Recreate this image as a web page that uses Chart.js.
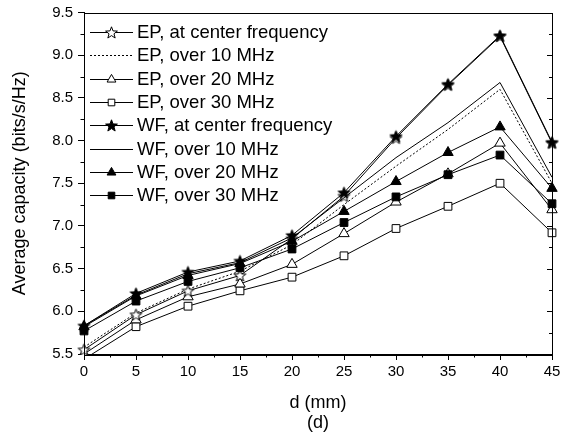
<!DOCTYPE html>
<html lang="en">
<head>
    <meta charset="UTF-8">
    <title>Average capacity vs d</title>
    <script src="https://cdn.jsdelivr.net/npm/chart.js"></script>
    <style>
        html, body { margin: 0; padding: 0; background: #fff; }
        .chart-container { position: relative; width: 574px; height: 441px; }
    </style>
</head>
<body>
<div class="chart-container">
    <canvas id="myChart" width="574" height="441"></canvas>
</div>
<script>
    // distance d (mm)
    const distances = [0, 5, 10, 15, 20, 25, 30, 35, 40, 45];

    // average capacity (bits/s/Hz)
    const epCenter = [5.55, 5.96, 6.24, 6.42, 6.85, 7.35, 8.03, 8.65, 9.22, 7.97];
    const ep10 = [5.58, 5.98, 6.26, 6.47, 6.78, 7.25, 7.70, 8.13, 8.60, 7.50];
    const ep20 = [5.50, 5.90, 6.17, 6.32, 6.55, 6.91, 7.28, 7.61, 7.97, 7.19];
    const ep30 = [5.44, 5.82, 6.06, 6.24, 6.40, 6.65, 6.97, 7.23, 7.50, 6.92];
    const wfCenter = [5.83, 6.21, 6.46, 6.59, 6.89, 7.39, 8.05, 8.66, 9.23, 7.98];
    const wf10 = [5.83, 6.19, 6.44, 6.57, 6.86, 7.33, 7.80, 8.21, 8.68, 7.57];
    const wf20 = [5.82, 6.18, 6.42, 6.56, 6.82, 7.17, 7.52, 7.86, 8.16, 7.44];
    const wf30 = [5.77, 6.12, 6.35, 6.51, 6.73, 7.04, 7.34, 7.60, 7.83, 7.26];

    const seriesLabels = [
        'EP, at center frequency', 'EP, over 10 MHz', 'EP, over 20 MHz', 'EP, over 30 MHz',
        'WF, at center frequency', 'WF, over 10 MHz', 'WF, over 20 MHz', 'WF, over 30 MHz'
    ];

    // tick labels
    const xTicks = [0, 5, 10, 15, 20, 25, 30, 35, 40, 45];
    const xMinorTicks = [2.5, 7.5, 12.5, 17.5, 22.5, 27.5, 32.5, 37.5, 42.5];
    const yTicks = [5.5, 6.0, 6.5, 7.0, 7.5, 8.0, 8.5, 9.0, 9.5];
    const yMinorTicks = [5.75, 6.25, 6.75, 7.25, 7.75, 8.25, 8.75, 9.25];

    Chart.defaults.font.family = "'Liberation Sans', Arial, sans-serif";
    Chart.defaults.color = '#000';

    // five-pointed star marker
    function makeStar(fill, outer, inner) {
        const c = document.createElement('canvas');
        c.width = 15; c.height = 15;
        const g = c.getContext('2d');
        g.beginPath();
        for (let i = 0; i < 10; i++) {
            const r = i % 2 === 0 ? outer : inner;
            const a = -Math.PI / 2 + i * Math.PI / 5;
            g.lineTo(7.5 + r * Math.cos(a), 8 + r * Math.sin(a));
        }
        g.closePath();
        g.fillStyle = fill;
        g.fill();
        g.lineWidth = 1;
        g.strokeStyle = '#000';
        g.stroke();
        return c;
    }
    const openStar = makeStar('#fff', 6.2, 2.6);
    const filledStar = makeStar('#000', 6.2, 2.6);

    function series(label, data, marker, fill, radius, dash, order) {
        return {
            label: label,
            data: data.map((v, i) => ({ x: distances[i], y: v })),
            borderColor: '#000',
            borderWidth: 1,
            borderDash: dash || [],
            pointStyle: marker || false,
            pointRadius: marker ? radius : 0,
            pointBackgroundColor: fill,
            pointBorderColor: '#000',
            pointBorderWidth: 1,
            tension: 0,
            fill: false,
            order: order,
            clip: { left: 10, right: 10, top: 10, bottom: 1 }
        };
    }

    const datasets = [
        series(seriesLabels[0], epCenter, openStar, '#fff', 6, null, 2),
        series(seriesLabels[1], ep10, null, '#fff', 0, [2, 2], 2),
        series(seriesLabels[2], ep20, 'triangle', '#fff', 6, null, 2),
        series(seriesLabels[3], ep30, 'rect', '#fff', 5.5, null, 2),
        series(seriesLabels[4], wfCenter, filledStar, '#000', 6, null, 1),
        series(seriesLabels[5], wf10, null, '#000', 0, null, 1),
        series(seriesLabels[6], wf20, 'triangle', '#000', 6, null, 1),
        series(seriesLabels[7], wf30, 'rect', '#000', 5.5, null, 1)
    ];

    // legend drawn inside the plot, top-left
    const insideLegend = {
        id: 'insideLegend',
        afterDatasetsDraw(chart) {
            const ctx = chart.ctx;
            ctx.save();
            ctx.font = "18.5px 'Liberation Sans', Arial, sans-serif";
            ctx.textBaseline = 'middle';
            ctx.fillStyle = '#000';
            datasets.forEach((ds, row) => {
                const y = Math.round(32 + row * 23.3) + 0.5;
                ctx.strokeStyle = '#000';
                ctx.lineWidth = 1;
                ctx.setLineDash(ds.borderDash);
                ctx.beginPath();
                ctx.moveTo(90, y);
                ctx.lineTo(133, y);
                ctx.stroke();
                ctx.setLineDash([]);
                if (ds.pointStyle) {
                    ctx.fillStyle = ds.pointBackgroundColor;
                    Chart.helpers.drawPoint(ctx, {
                        pointStyle: ds.pointStyle,
                        radius: ds.pointRadius * 0.85,
                        rotation: 0,
                        borderWidth: 1
                    }, 111.5, y);
                }
                ctx.fillStyle = '#000';
                ctx.fillText(ds.label, 137, y);
            });
            ctx.restore();
        }
    };

    // frame, minor ticks and inner ticks on the right side
    const frameTicks = {
        id: 'frameTicks',
        afterDraw(chart) {
            const ctx = chart.ctx;
            const a = chart.chartArea;
            const xs = chart.scales.x;
            const ys = chart.scales.y;
            ctx.save();
            ctx.strokeStyle = '#000';
            ctx.lineWidth = 1;
            ctx.strokeRect(Math.round(a.left) + 0.5, Math.round(a.top) + 0.5,
                Math.round(a.right - a.left), Math.round(a.bottom - a.top));
            ctx.beginPath();
            xMinorTicks.forEach(v => {
                const px = Math.round(xs.getPixelForValue(v)) + 0.5;
                ctx.moveTo(px, a.bottom);
                ctx.lineTo(px, a.bottom + 3.5);
            });
            yMinorTicks.forEach(v => {
                const py = Math.round(ys.getPixelForValue(v)) + 0.5;
                ctx.moveTo(a.left, py);
                ctx.lineTo(a.left - 3.5, py);
                ctx.moveTo(a.right, py);
                ctx.lineTo(a.right - 3, py);
            });
            yTicks.forEach(v => {
                const py = Math.round(ys.getPixelForValue(v)) + 0.5;
                ctx.moveTo(a.right, py);
                ctx.lineTo(a.right - 5, py);
            });
            ctx.stroke();
            ctx.restore();
        }
    };

    const ctx = document.getElementById('myChart').getContext('2d');
    const myChart = new Chart(ctx, {
        type: 'line',
        data: { datasets: datasets },
        options: {
            responsive: false,
            animation: false,
            layout: { padding: { top: 0, right: 22, left: 0, bottom: 0 } },
            plugins: {
                legend: { display: false },
                tooltip: { enabled: false }
            },
            scales: {
                x: {
                    type: 'linear',
                    min: 0,
                    max: 45,
                    afterBuildTicks: (scale) => { scale.ticks = xTicks.map(v => ({ value: v })); },
                    afterFit: (scale) => { scale.height = 87; },
                    grid: { drawOnChartArea: false, tickLength: 6, color: '#000' },
                    border: { display: true, color: '#000', width: 1 },
                    ticks: {
                        padding: 4,
                        maxRotation: 0,
                        font: { size: 15, lineHeight: 1 },
                        callback: (v) => v
                    },
                    title: {
                        display: true,
                        text: ['d (mm)', '(d)'],
                        font: { size: 18, lineHeight: '20px' },
                        padding: { top: 0, bottom: 8 }
                    }
                },
                y: {
                    min: 5.5,
                    max: 9.5,
                    afterBuildTicks: (scale) => { scale.ticks = yTicks.map(v => ({ value: v })); },
                    afterFit: (scale) => { scale.width = 84; },
                    grid: { drawOnChartArea: false, tickLength: 6, color: '#000' },
                    border: { display: true, color: '#000', width: 1 },
                    ticks: {
                        padding: 5,
                        font: { size: 15, lineHeight: 1 },
                        callback: (v) => Number(v).toFixed(1)
                    },
                    title: {
                        display: true,
                        text: 'Average capacity (bits/s/Hz)',
                        font: { size: 18, lineHeight: 1.2 },
                        padding: { top: 9, bottom: 0 }
                    }
                }
            }
        },
        plugins: [insideLegend, frameTicks]
    });
</script>
</body>
</html>
